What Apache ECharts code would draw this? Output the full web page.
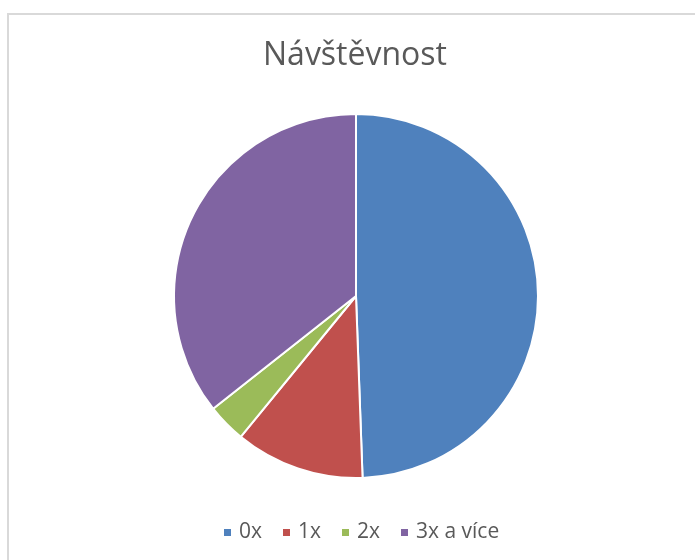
<!DOCTYPE html>
<html>
<head>
<meta charset="utf-8">
<script src="https://cdn.jsdelivr.net/npm/echarts@6/dist/echarts.min.js"></script>
<style>
    html, body { margin: 0; padding: 0; background: #fff; }
    #chart { width: 695px; height: 560px; }
</style>
</head>
<body>
<div id="chart"></div>
<script>
// hodnoty
const categories = ['0x', '1x', '2x', '3x a více'];
const visits = [43, 10, 3, 31];
const colors = ['#4F81BD', '#C0504D', '#9BBB59', '#8064A2'];

const chart = echarts.init(document.getElementById('chart'));

const option = {
    animation: false,
    color: colors,
    title: {
        text: 'Návštěvnost',
        left: 258,
        top: 35,
        textStyle: {
            fontFamily: 'Open Sans',
            fontSize: 32,
            fontWeight: 'normal',
            color: '#595959'
        }
    },
    legend: {
        top: 517,
        left: 217,
        icon: 'rect',
        itemWidth: 9,
        itemHeight: 9,
        itemGap: 19,
        textStyle: {
            fontFamily: 'Open Sans',
            fontSize: 21,
            color: '#595959',
            padding: [0, 0, 0, 2]
        },
        data: categories
    },
    graphic: [
        {
            type: 'rect',
            shape: { x: 8, y: 14, width: 720, height: 600 },
            style: { fill: 'none', stroke: '#d9d9d9', lineWidth: 2 },
            silent: true
        }
    ],
    series: [
        {
            type: 'pie',
            center: [356, 296],
            radius: [0, 182],
            startAngle: 90,
            clockwise: true,
            label: { show: false },
            labelLine: { show: false },
            itemStyle: { borderColor: '#fff', borderWidth: 2 },
            emphasis: { disabled: true },
            data: categories.map((name, i) => ({ name: name, value: visits[i] }))
        }
    ]
};

chart.setOption(option);
</script>
</body>
</html>
